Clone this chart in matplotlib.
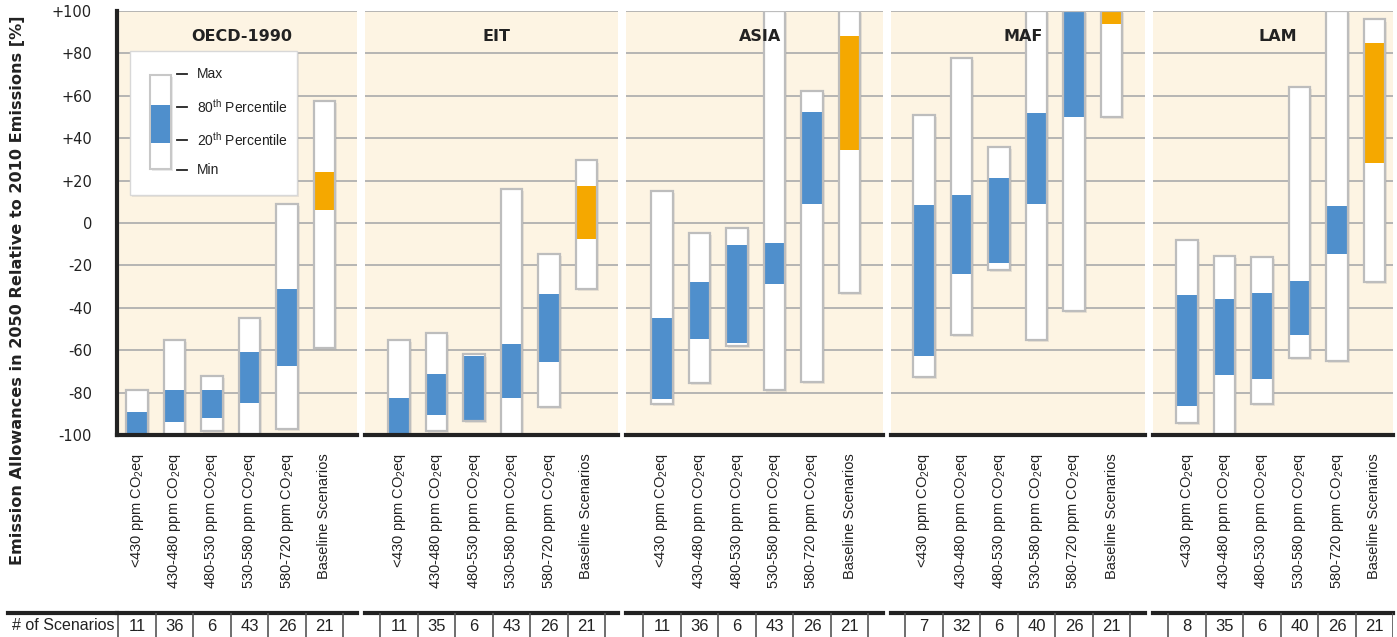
import matplotlib
matplotlib.use('Agg')
import matplotlib.pyplot as plt
import matplotlib.patheffects as pe
from matplotlib.patches import Rectangle
from matplotlib.lines import Line2D

plt.rcParams['font.family'] = ['DejaVu Sans']
plt.rcParams['mathtext.fontset'] = 'custom'
plt.rcParams['mathtext.rm'] = 'Liberation Sans'
narrow = ['Liberation Sans Narrow', 'Liberation Sans', 'DejaVu Sans']

regions = ['OECD-1990', 'EIT', 'ASIA', 'MAF', 'LAM']
categories = ['<430 ppm CO$_2$eq', '430-480 ppm CO$_2$eq', '480-530 ppm CO$_2$eq',
              '530-580 ppm CO$_2$eq', '580-720 ppm CO$_2$eq', 'Baseline Scenarios']

oecd_min = [-100, -100, -98, -100, -97, -59]
oecd_p20 = [-100, -94, -92, -85, -67.5, 6]
oecd_p80 = [-89, -79, -79, -61, -31, 24]
oecd_max = [-79, -55, -72, -45, 9, 57.5]

eit_min = [-100, -98, -93.4, -100, -86.6, -31]
eit_p20 = [-100, -90.5, -93, -82.5, -65.5, -7.5]
eit_p80 = [-82.5, -71, -62.5, -57, -33.5, 17.5]
eit_max = [-55, -52, -62, 16, -14.5, 29.5]

asia_min = [-85.5, -75.5, -58, -79, -75, -33]
asia_p20 = [-83, -54.5, -56.5, -29, 9, 34.5]
asia_p80 = [-45, -28, -10.5, -9.5, 52.5, 88]
asia_max = [15, -4.5, -2.5, 100, 62.5, 100]

maf_min = [-72.5, -53, -22, -55, -41.5, 50]
maf_p20 = [-62.5, -24, -19, 9, 50, 94]
maf_p80 = [8.5, 13, 21, 52, 100, 100]
maf_max = [51, 78, 36, 100, 100, 100]

lam_min = [-94.5, -100, -85.5, -63.5, -65, -28]
lam_p20 = [-86.5, -71.5, -73.5, -53, -14.5, 28.5]
lam_p80 = [-34, -36, -33, -27.5, 8, 85]
lam_max = [-8, -15.5, -16, 64, 100, 96]

oecd_n = [11, 36, 6, 43, 26, 21]
eit_n = [11, 35, 6, 43, 26, 21]
asia_n = [11, 36, 6, 43, 26, 21]
maf_n = [7, 32, 6, 40, 26, 21]
lam_n = [8, 35, 6, 40, 26, 21]

mins = [oecd_min, eit_min, asia_min, maf_min, lam_min]
p20s = [oecd_p20, eit_p20, asia_p20, maf_p20, lam_p20]
p80s = [oecd_p80, eit_p80, asia_p80, maf_p80, lam_p80]
maxs = [oecd_max, eit_max, asia_max, maf_max, lam_max]
counts = [oecd_n, eit_n, asia_n, maf_n, lam_n]

yticks = [-100, -80, -60, -40, -20, 0, 20, 40, 60, 80, 100]
ytick_labels = ['-100', '-80', '-60', '-40', '-20', '0', '+20', '+40', '+60', '+80', '+100']

# pixel layout: (left, right, centre of first bar)
W, H = 1397, 637
panels = [(117, 357, 137), (365, 618, 399), (626, 883, 662), (891, 1145, 924), (1153, 1393, 1187)]
slot = 37.5
ax_bottom, ax_top = 435, 11

bg = '#FDF4E3'
blue = '#4F8FCC'
orange = '#F5A800'
edge = '#BDBDBD'
shadow = [pe.withSimplePatchShadow(offset=(1.5, -1.5), shadow_rgbFace='#999999', alpha=0.2)]

fig = plt.figure(figsize=(W / 100, H / 100), dpi=100)

for i, (left, right, c0) in enumerate(panels):
    ax = fig.add_axes([left / W, (H - ax_bottom) / H, (right - left) / W, (ax_bottom - ax_top) / H])
    ax.set_facecolor(bg)
    ax.set_xlim(-(c0 - left) / slot, (right - c0) / slot)
    ax.set_ylim(-100, 100)
    for y in yticks:
        ax.axhline(y, color='#B0B0B0', lw=1.3, zorder=1)
    bw = 0.58
    for k in range(6):
        lo, hi = mins[i][k], maxs[i][k]
        ax.bar(k, hi - lo, bottom=lo, width=bw, color='white', edgecolor='none', zorder=2,
               path_effects=shadow)
        col = orange if k == 5 else blue
        ax.bar(k, p80s[i][k] - p20s[i][k], bottom=p20s[i][k], width=bw, color=col,
               edgecolor='none', zorder=3)
        ax.bar(k, hi - lo, bottom=lo, width=bw, color='none', edgecolor=edge, lw=1.6, zorder=4)
    ax.text(0.52, 88, regions[i], transform=ax.get_yaxis_transform(), ha='center', va='center',
            fontsize=11.5, fontweight='bold', color='#222222', zorder=6)
    for s in ['top', 'right', 'left']:
        ax.spines[s].set_visible(False)
    ax.spines['bottom'].set_linewidth(3)
    ax.spines['bottom'].set_color('#222222')
    ax.spines['bottom'].set_zorder(5)
    ax.set_xticks(range(6))
    ax.set_xticklabels(categories, rotation=90, fontsize=10.5, family=narrow, color='#222222')
    ax.tick_params(axis='x', length=0, pad=13)
    if i == 0:
        ax.spines['left'].set_visible(True)
        ax.spines['left'].set_linewidth(3)
        ax.spines['left'].set_color('#222222')
        ax.set_yticks(yticks)
        ax.set_yticklabels(ytick_labels, fontsize=10.5, color='#222222')
        ax.tick_params(axis='y', length=0, pad=18)
    else:
        ax.set_yticks([])

    # scenario count row
    tab = fig.add_axes([left / W, 0, (right - left) / W, 24 / H])
    tab.set_xlim(ax.get_xlim())
    tab.set_ylim(0, 1)
    tab.axis('off')
    tab.axhline(1, color='#222222', lw=3, clip_on=False)
    for k in range(7):
        tab.plot([k - 0.5, k - 0.5], [0, 1], color='#555555', lw=1.2)
    for k in range(6):
        tab.text(k, 0.42, str(counts[i][k]), ha='center', va='center', fontsize=12,
                 family=narrow, color='#222222')

fig.add_artist(Line2D([8 / W, 117 / W], [24 / H, 24 / H], color='#222222', lw=3))
fig.text(12 / W, 11 / H, '# of Scenarios', ha='left', va='center', fontsize=11.5,
         family=narrow, color='#222222')

fig.text(18 / W, (H - 290) / H, 'Emission Allowances in 2050 Relative to 2010 Emissions [%]',
         rotation=90, ha='center', va='center', fontsize=11.6, fontweight='bold', color='#222222')

# legend box
lg = fig.add_axes([130 / W, (H - 195) / H, 167 / W, 144 / H])
lg.set_xlim(0, 167)
lg.set_ylim(144, 0)
lg.axis('off')
lg.add_patch(Rectangle((0, 0), 167, 144, facecolor='white', edgecolor='#D8D8D8', lw=1,
                       path_effects=shadow, clip_on=False))
lg.add_patch(Rectangle((20, 24), 21, 94, facecolor='white', edgecolor='#C8C8C8', lw=1.5,
                       path_effects=shadow))
lg.add_patch(Rectangle((20.8, 54), 19.4, 38, facecolor=blue, edgecolor='none'))
leg_labels = ['Max', '80$^{\\rm th}$ Percentile', '20$^{\\rm th}$ Percentile', 'Min']
for yy, lab in zip([23, 56, 89, 119], leg_labels):
    lg.plot([47, 57], [yy, yy], color='#222222', lw=1.3)
    lg.text(67, yy, lab, ha='left', va='center', fontsize=10, family=narrow, color='#222222')

fig.savefig('out.png', dpi=100)
